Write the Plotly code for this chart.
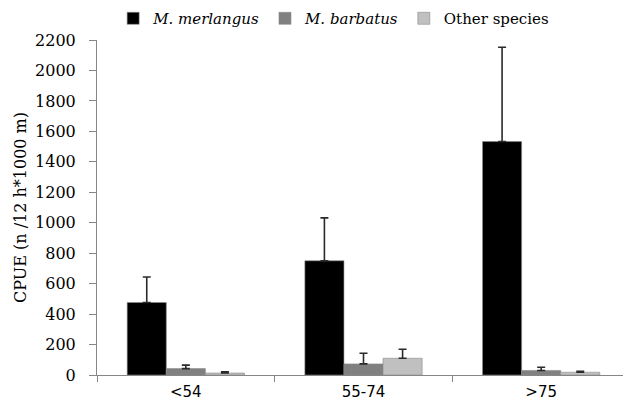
import plotly.graph_objects as go

categories = ["<54", "55-74", ">75"]
series_names = ["<i>M. merlangus</i>", "<i>M. barbatus</i>", "Other species"]
merlangus = [476, 750, 1533]
merlangus_err = [168, 282, 619]
barbatus = [42, 73, 30]
barbatus_err = [23, 70, 21]
other = [13, 110, 18]
other_err = [8, 59, 7]
y_ticks = list(range(0, 2201, 200))

colors = ["#000000", "#808080", "#c0c0c0"]
values = [merlangus, barbatus, other]
errors = [merlangus_err, barbatus_err, other_err]

fig = go.Figure()
for name, vals, errs, col in zip(series_names, values, errors, colors):
    fig.add_trace(go.Bar(
        x=categories, y=vals, name=name,
        marker=dict(color=col, line=dict(color="#8a8a8a", width=0.6)),
        error_y=dict(type="data", array=errs, arrayminus=[0]*len(errs), symmetric=False,
                     color="#2a2a2a", thickness=1.6, width=4),
    ))

H = 402
fig.update_layout(
    width=623, height=H,
    margin=dict(l=89, r=1, t=32, b=35, autoexpand=False),
    paper_bgcolor="white", plot_bgcolor="white",
    barmode="group", bargap=0.34, bargroupgap=0,
    font=dict(family="DejaVu Serif", size=16, color="#000000"),
    legend=dict(orientation="h", x=0.444, xanchor="center", y=1.064, yanchor="middle",
                font=dict(family="DejaVu Serif", size=15), itemwidth=30,
                traceorder="normal", tracegroupgap=0),
    showlegend=True,
)
fig.update_xaxes(
    showline=True, linecolor="#868686", linewidth=1,
    ticks="outside", tickson="boundaries", ticklen=6, tickcolor="#868686",
    tickfont=dict(family="DejaVu Sans", size=15, color="#000000"),
    ticklabelstandoff=3,
    showgrid=False,
)
fig.update_yaxes(
    range=[0, 2200], tickvals=y_ticks,
    showline=True, linecolor="#868686", linewidth=1,
    ticks="outside", ticklen=7, tickcolor="#868686",
    tickfont=dict(family="DejaVu Serif", size=16, color="#000000"),
    ticklabelstandoff=10,
    showgrid=False, zeroline=False,
    title=dict(text="CPUE (n /12 h*1000 m)", font=dict(family="DejaVu Serif", size=16), standoff=4),
)

fig.write_html("out.html")
